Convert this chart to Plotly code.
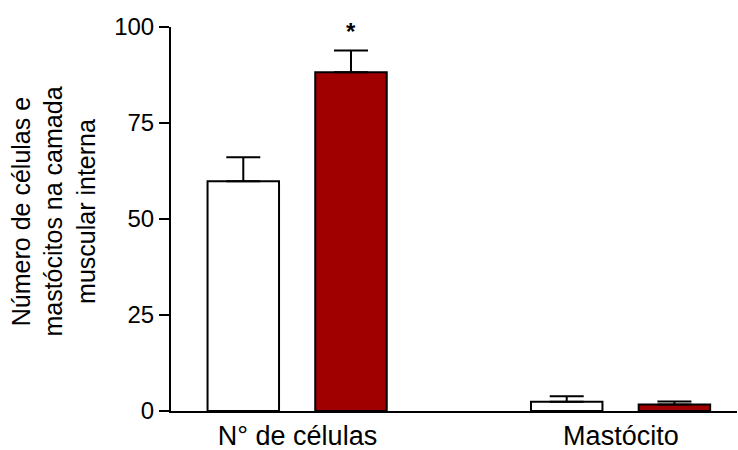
import plotly.graph_objects as go

# Group labels on the x axis
categories = ["N° de células", "Mastócito"]
# Mean values per group (control / treated)
control_mean = [59.8, 2.4]
treated_mean = [88.2, 1.7]
# Upper error (SEM) per group
control_err = [6.3, 1.45]
treated_err = [5.7, 0.8]
# Y axis ticks
y_ticks = [0, 25, 50, 75, 100]

xpos = list(range(len(categories)))
font_family = "Liberation Sans, Arial, sans-serif"

fig = go.Figure()

fig.add_trace(go.Bar(
    x=xpos, y=control_mean, width=0.221, offset=-0.278,
    marker=dict(color="white", line=dict(color="black", width=2)),
    error_y=dict(type="data", array=control_err, arrayminus=[0] * len(control_err),
                 symmetric=False, color="black", thickness=2, width=17),
    showlegend=False,
))
fig.add_trace(go.Bar(
    x=xpos, y=treated_mean, width=0.221, offset=0.055,
    marker=dict(color="#a00000", line=dict(color="black", width=2)),
    error_y=dict(type="data", array=treated_err, arrayminus=[0] * len(treated_err),
                 symmetric=False, color="black", thickness=2, width=17),
    showlegend=False,
))

# Significance marker above the treated bar of the first group
fig.add_annotation(
    x=xpos[0] + 0.055 + 0.221 / 2, y=treated_mean[0] + treated_err[0],
    xref="x", yref="y", text="<b>*</b>", showarrow=False,
    yanchor="bottom", yshift=3,
    font=dict(family=font_family, size=24, color="black"),
)

# Rotated three-line y title
fig.add_annotation(
    x=-0.208, y=0.52, xref="paper", yref="paper",
    text="Número de células e<br>mastócitos na camada<br>muscular interna",
    textangle=-90, showarrow=False, xanchor="center", yanchor="middle",
    font=dict(family=font_family, size=25, color="black"),
)

fig.update_layout(
    width=738, height=450,
    margin=dict(l=171, r=1, t=27, b=39),
    paper_bgcolor="white", plot_bgcolor="white",
    font=dict(family=font_family, size=24, color="black"),
    xaxis=dict(
        range=[-0.391, 1.359], tickvals=xpos, ticktext=categories,
        showline=True, linecolor="black", linewidth=2,
        ticks="", showgrid=False, zeroline=False, automargin=False,
        tickfont=dict(size=27),
    ),
    yaxis=dict(
        range=[0, 100], tickvals=y_ticks,
        showline=True, linecolor="black", linewidth=2,
        ticks="outside", ticklen=10, tickwidth=2, tickcolor="black",
        showgrid=False, zeroline=False, automargin=False,
        tickfont=dict(size=24),
    ),
)

fig.write_html("out.html")
